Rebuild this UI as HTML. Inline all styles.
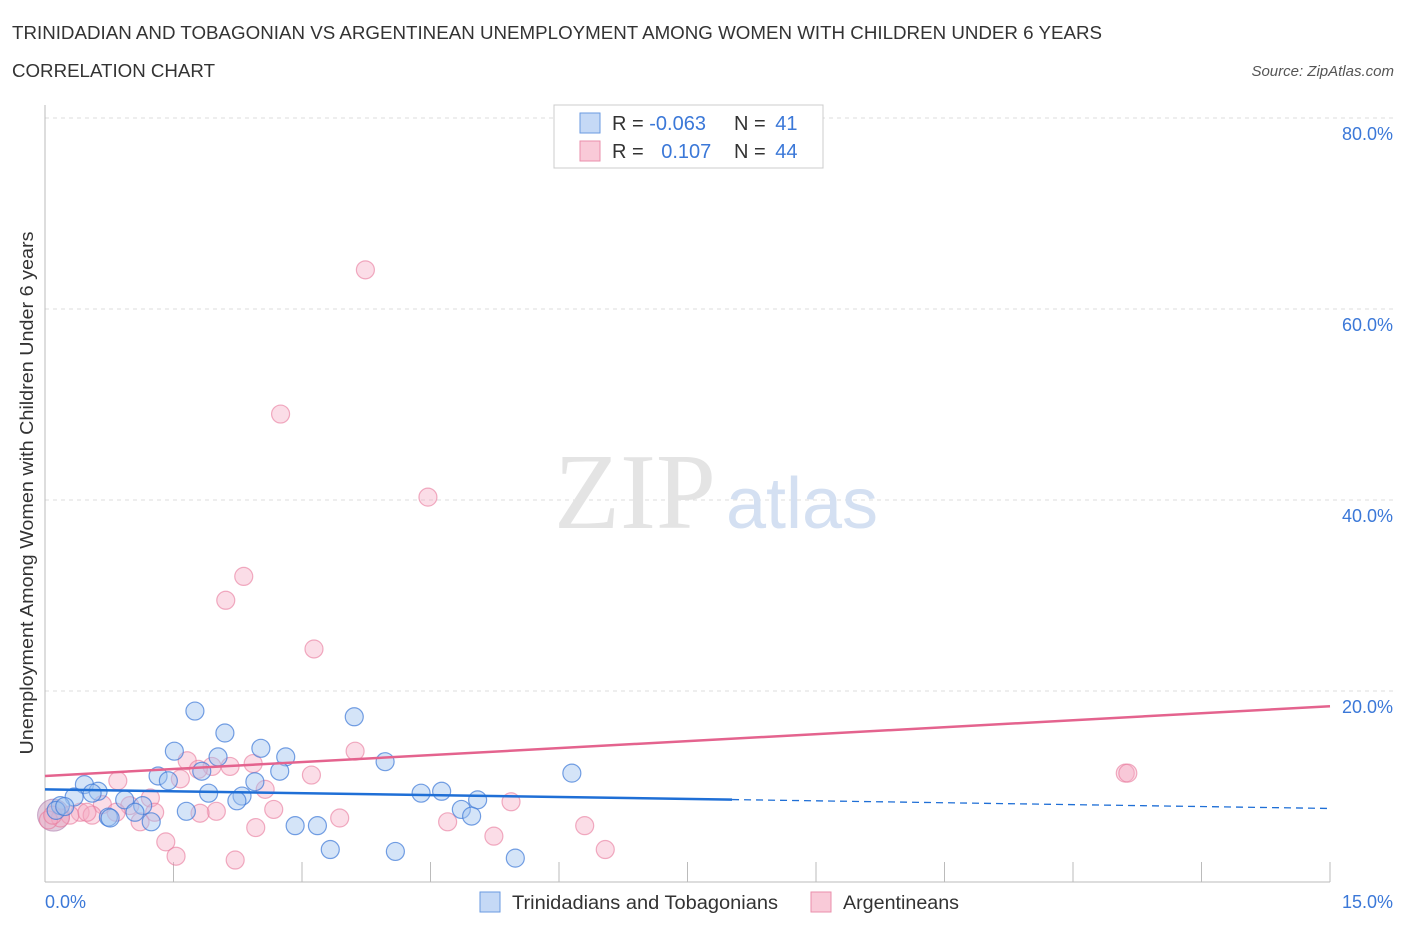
<!DOCTYPE html>
<html><head><meta charset="utf-8"><style>
body{margin:0;background:#fff;font-family:"Liberation Sans",sans-serif;}
</style></head><body>
<svg width="1406" height="930" xmlns="http://www.w3.org/2000/svg" font-family="Liberation Sans, sans-serif">
<text x="12" y="39" font-size="18" fill="#333" textLength="1090" lengthAdjust="spacingAndGlyphs">TRINIDADIAN AND TOBAGONIAN VS ARGENTINEAN UNEMPLOYMENT AMONG WOMEN WITH CHILDREN UNDER 6 YEARS</text>
<text x="12" y="77" font-size="18" fill="#333" textLength="203" lengthAdjust="spacingAndGlyphs">CORRELATION CHART</text>
<text x="1394" y="76" font-size="15" fill="#555" font-style="italic" text-anchor="end">Source: ZipAtlas.com</text>
<g id="grid"></g>
<text x="635" y="528" font-size="108" fill="#e4e4e4" text-anchor="middle" font-family="Liberation Serif, serif">ZIP</text>
<text x="802" y="528" font-size="72" fill="#d4e0f2" text-anchor="middle">atlas</text>
<line x1="45" y1="105" x2="45" y2="882" stroke="#bbb"/>
<line x1="45" y1="882" x2="1330" y2="882" stroke="#bbb"/>
<g id="ticks"></g>
<g id="points"></g>
<g id="trends"></g>
<text x="0" y="0" font-size="18" fill="#333" text-anchor="middle" textLength="523" lengthAdjust="spacingAndGlyphs" transform="translate(33 493) rotate(-90)">Unemployment Among Women with Children Under 6 years</text>
<text x="45" y="908" font-size="18" fill="#3b78d8">0.0%</text>
<text x="1393" y="908" font-size="18" fill="#3b78d8" text-anchor="end">15.0%</text>
<g>
<rect x="554" y="105" width="269" height="63" fill="#fff" stroke="#ccc"/>
<rect x="580" y="113" width="20" height="20" fill="#c5d9f6" stroke="#6a9ae0"/>
<rect x="580" y="141" width="20" height="20" fill="#f9cad8" stroke="#ea8fab"/>
<text x="612" y="130" font-size="20" fill="#333">R = <tspan fill="#3b78d8">-0.063</tspan></text>
<text x="734" y="130" font-size="20" fill="#333">N = <tspan fill="#3b78d8" dx="4">41</tspan></text>
<text x="612" y="158" font-size="20" fill="#333">R = <tspan fill="#3b78d8" dx="12">0.107</tspan></text>
<text x="734" y="158" font-size="20" fill="#333">N = <tspan fill="#3b78d8" dx="4">44</tspan></text>
</g>
<g>
<rect x="480" y="892" width="20" height="20" fill="#c5d9f6" stroke="#6a9ae0"/>
<text x="512" y="909" font-size="19" fill="#333" textLength="266" lengthAdjust="spacingAndGlyphs">Trinidadians and Tobagonians</text>
<rect x="811" y="892" width="20" height="20" fill="#f9cad8" stroke="#ea8fab"/>
<text x="843" y="909" font-size="19" fill="#333" textLength="116" lengthAdjust="spacingAndGlyphs">Argentineans</text>
</g>
</svg>
<script>
const yTicks=[20,40,60,80];
const xTickVals=[0,1.5,3,4.5,6,7.5,9,10.5,12,13.5,15];
const blueX=[1.75,2.10,2.52,1.51,2.02,2.81,3.61,3.97,2.74,1.32,1.44,1.83,2.45,0.46,0.62,0.55,0.34,0.93,0.18,1.91,2.30,2.24,1.65,1.14,1.05,0.74,1.24,2.92,3.18,3.33,4.09,4.39,4.63,4.86,5.05,4.98,5.49,6.15,0.13,0.23,0.76];
const blueY=[17.9,15.6,14.0,13.7,13.1,13.1,17.3,12.6,11.6,11.1,10.6,11.6,10.5,10.2,9.5,9.3,8.9,8.6,8.0,9.3,9.0,8.5,7.4,8.0,7.3,6.8,6.3,5.9,5.9,3.4,3.2,9.3,9.5,7.6,8.6,6.9,2.5,11.4,7.5,7.9,6.7];
const pinkX=[3.74,2.75,4.47,2.32,2.11,3.14,3.62,1.66,1.95,1.79,1.58,2.43,3.11,0.85,2.57,1.23,0.67,0.99,2.67,1.28,0.41,0.55,0.29,0.18,0.04,0.83,3.44,1.41,1.53,2.22,2.46,4.70,5.24,5.44,6.30,6.54,12.61,12.64,2.00,1.11,1.81,0.09,0.49,2.16];
const pinkY=[64.1,49.0,40.3,32.0,29.5,24.4,13.7,12.7,12.1,11.8,10.8,12.4,11.2,10.6,9.7,8.8,8.1,8.0,7.6,7.3,7.3,7.0,7.0,6.7,6.5,7.3,6.7,4.2,2.7,2.3,5.7,6.3,4.8,8.4,5.9,3.4,11.4,11.4,7.4,6.3,7.2,7.0,7.3,12.1];
const blueTrend=[9.7,7.7];
const pinkTrend=[11.1,18.4];
const NS="http://www.w3.org/2000/svg";
const sx=v=>45+v/15*1285;
const sy=v=>882-v/20*191;
function mk(t,a,p){const e=document.createElementNS(NS,t);for(const k in a)e.setAttribute(k,a[k]);p.appendChild(e);return e;}
const grid=document.getElementById('grid');
yTicks.forEach(t=>{
 const l=mk('line',{x1:45,x2:1393,y1:sy(t),y2:sy(t),stroke:'#ddd','stroke-dasharray':'4,4'},grid);
 
 
 const tx=mk('text',{x:1393,y:sy(t)+22,'font-size':18,fill:'#3b78d8','text-anchor':'end'},grid);
 tx.textContent=t.toFixed(1)+'%';
 
 
});
const ticks=document.getElementById('ticks');
xTickVals.forEach(t=>{
 const l=mk('line',{x1:sx(t),x2:sx(t),y1:862,y2:882,stroke:'#bbb'},ticks);
 
 
});
const pts=document.getElementById('points');
const big=mk('circle',{cx:sx(0.1),cy:sy(7.0),r:16,fill:'rgba(190,140,180,0.45)',stroke:'rgba(170,120,170,0.6)'},pts);


pinkX.forEach((x,i)=>{
 const c=mk('circle',{cx:sx(x),cy:sy(pinkY[i]),r:9,fill:'rgba(245,170,195,0.4)',stroke:'rgba(232,120,155,0.6)','stroke-width':1.2},pts);
 
 
});
blueX.forEach((x,i)=>{
 const c=mk('circle',{cx:sx(x),cy:sy(blueY[i]),r:9,fill:'rgba(160,195,240,0.45)',stroke:'rgba(60,120,215,0.7)','stroke-width':1.2},pts);
 
 
});
const tr=document.getElementById('trends');
const by=x=>blueTrend[0]+(blueTrend[1]-blueTrend[0])*x/15;
const b1=mk('line',{x1:sx(0),y1:sy(by(0)),x2:sx(8.02),y2:sy(by(8.02)),stroke:'#1f6fd6','stroke-width':2.5},tr);


const b2=mk('line',{x1:sx(8.02),y1:sy(by(8.02)),x2:sx(15),y2:sy(by(15)),stroke:'#1f6fd6','stroke-width':1.3,'stroke-dasharray':'7,5'},tr);


const p1=mk('line',{x1:sx(0),y1:sy(pinkTrend[0]),x2:sx(15),y2:sy(pinkTrend[1]),stroke:'#e4638e','stroke-width':2.5},tr);


</script>
</body></html>
